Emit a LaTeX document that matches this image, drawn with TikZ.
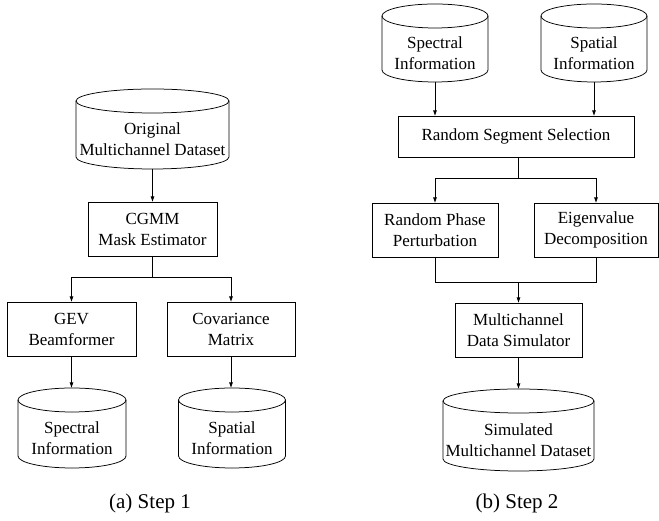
\documentclass[tikz,border=0pt]{standalone}
\usepackage{fontspec}
\setmainfont{Liberation Serif}
\newfontfamily\timesfam{Liberation Serif}
\usetikzlibrary{arrows.meta,calc}
\newcommand\cylry{12}
\tikzset{
  line/.style={line width=0.75pt, draw=black},
  arr/.style={line, -{Latex[length=5.5pt,width=4pt]}},
  box/.style={draw=black, line width=0.75pt, rectangle, inner sep=0pt, outer sep=0pt, align=center,
     font=\timesfam\fontsize{17}{21}\selectfont},
  cylbox/.style={rectangle, inner sep=0pt, outer sep=0pt, draw=none},
  txt/.style={align=center, inner sep=0pt, font=\timesfam\fontsize{17}{21}\selectfont},
  captext/.style={inner sep=0pt, font=\timesfam\fontsize{21}{25}\selectfont}
}
\newcommand\dbcyl[6]{%
  \node[cylbox, minimum width=#4pt, minimum height=#5pt] (#1) at (#2,#3) {};
  \node[txt] (#1-t) at ($(#1.center)+(0,-10)$) {#6};
  \draw[line] ($(#1.north west)+(0,-\cylry)$) -- ($(#1.south west)+(0,\cylry)$)
     arc[start angle=180,end angle=360,x radius=#4/2,y radius=\cylry]
     -- ($(#1.north east)+(0,-\cylry)$);
  \draw[line] ($(#1.north)+(0,-\cylry)$) ellipse[x radius=#4/2, y radius=\cylry];
}
\begin{document}
\begin{tikzpicture}[x=1pt,y=1pt]
\useasboundingbox (0,0) rectangle (659,521);
% ---- Step 1 ----
\dbcyl{orig}{152.5}{392}{153}{80}{Original\\Multichannel Dataset}
\node[box, minimum width=129pt, minimum height=54pt] (cgmm) at (152.5,292) {CGMM\\Mask Estimator};
\node[box, minimum width=129pt, minimum height=54pt] (gev) at (71.5,192) {GEV\\Beamformer};
\node[box, minimum width=128pt, minimum height=54pt] (cov) at (231,192) {Covariance\\Matrix};
\dbcyl{specA}{72}{93}{108}{80}{Spectral\\Information}
\dbcyl{spatA}{232}{93}{107}{80}{Spatial\\Information}
\node[captext] (capa) at (150,18) {(a) Step 1};
\coordinate (ja) at (152.5,244);
\draw[arr] (orig.south) -- (cgmm.north);
\draw[line] (cgmm.south) -- (ja);
\draw[arr] (ja) -| (gev.north);
\draw[arr] (ja) -| (cov.north);
\draw[arr] (gev.south) -- (gev.south |- specA.north);
\draw[arr] (cov.south) -- (cov.south |- spatA.north);
% ---- Step 2 ----
\dbcyl{specB}{435}{478}{106}{78}{Spectral\\Information}
\dbcyl{spatB}{594}{478}{106}{78}{Spatial\\Information}
\node[box, minimum width=236pt, minimum height=41pt] (rss) at (516,384.5) {Random Segment Selection};
\node[box, minimum width=126pt, minimum height=54pt] (rpp) at (435,291) {Random Phase\\Perturbation};
\node[box, minimum width=124pt, minimum height=54pt] (evd) at (596,291) {Eigenvalue\\Decomposition};
\node[box, minimum width=127pt, minimum height=54pt] (mds) at (518.5,191) {Multichannel\\Data Simulator};
\dbcyl{sim}{518.5}{91}{151}{82}{Simulated\\Multichannel Dataset}
\node[captext] (capb) at (517,18) {(b) Step 2};
\coordinate (jb) at (518,343);
\coordinate (jc) at (518.5,239);
\draw[arr] (specB.south) -- (specB.south |- rss.north);
\draw[arr] (spatB.south) -- (spatB.south |- rss.north);
\draw[line] (rss.south -| jb) -- (jb);
\draw[arr] (jb) -| (rpp.north);
\draw[arr] (jb) -| (evd.north);
\draw[line] (rpp.south) -- (rpp.south |- jc) -- (evd.south |- jc) -- (evd.south);
\draw[arr] (jc) -- (mds.north);
\draw[arr] (mds.south) -- (sim.north);
\end{tikzpicture}
\end{document}
